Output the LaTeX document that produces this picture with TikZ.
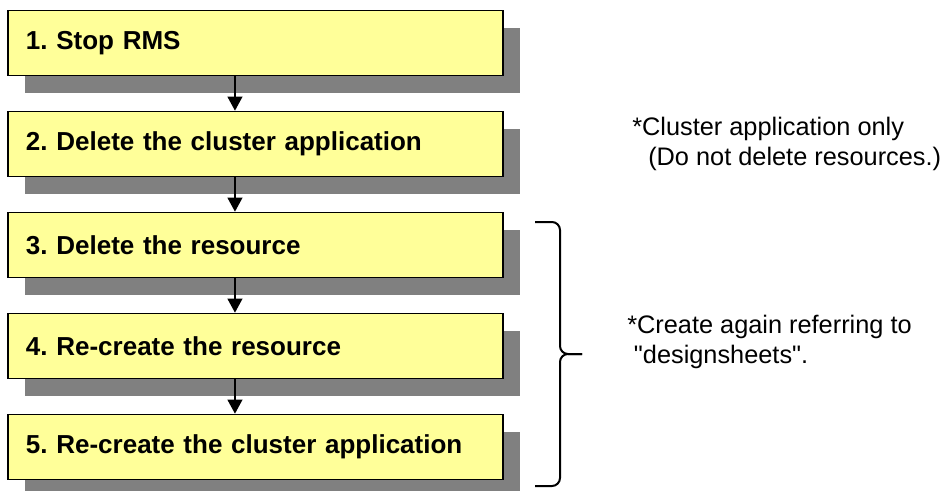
\documentclass[tikz,border=0pt]{standalone}
\usepackage{fontspec}
\setmainfont{Liberation Sans}
\usetikzlibrary{arrows.meta,shadows}
\definecolor{boxyellow}{HTML}{FFFF99}
\definecolor{shadowgray}{HTML}{808080}
\frenchspacing
\begin{document}
\begin{tikzpicture}[x=0.75pt, y=-0.75pt,
        stepbox/.style={draw, line width=1.2pt, fill=boxyellow, minimum height=48.75pt, text width=344.25pt, inner xsep=13.5pt, inner ysep=0pt, align=left, font=\bfseries\fontsize{19.5}{23}\selectfont, general shadow={fill=shadowgray, shadow xshift=12.75pt, shadow yshift=-12.75pt}},
        note/.style={inner sep=0pt, align=left, font=\fontsize{19}{22.5}\selectfont},
        flow/.style={line width=1.4pt, -{Triangle[width=11pt,length=10.5pt]}}]
        \useasboundingbox (0,0) rectangle (950,490);
        \foreach \i/\txt in {1/Stop RMS,2/Delete the cluster application,3/Delete the resource,4/Re-create the resource,5/Re-create the cluster application} {
            \node[stepbox] (b\i) at (255.5,{43+101*(\i-1)}) {\i. \txt};
        }
        \foreach \i/\j in {1/2,2/3,3/4,4/5} {
            \draw[flow] ([xshift=-15.4pt]b\i.south) -- ([xshift=-15.4pt]b\j.north);
        }
        \draw[line width=1.5pt, rounded corners=6pt] (535,222) -- (560,222) -- (560,354) -- (582,354);
        \draw[line width=1.5pt, rounded corners=6pt] (582,354) -- (560,354) -- (560,486) -- (535,486);
        \node[note, anchor=base west] (clnote) at (632,165) {*Cluster application only\\\hspace{12pt}(Do not delete resources.)};
        \node[note, anchor=base west] (rsnote) at (627,363) {*Create again referring to\\\hspace{5pt}\textquotedbl designsheets\textquotedbl.};
    \end{tikzpicture}
\end{document}
